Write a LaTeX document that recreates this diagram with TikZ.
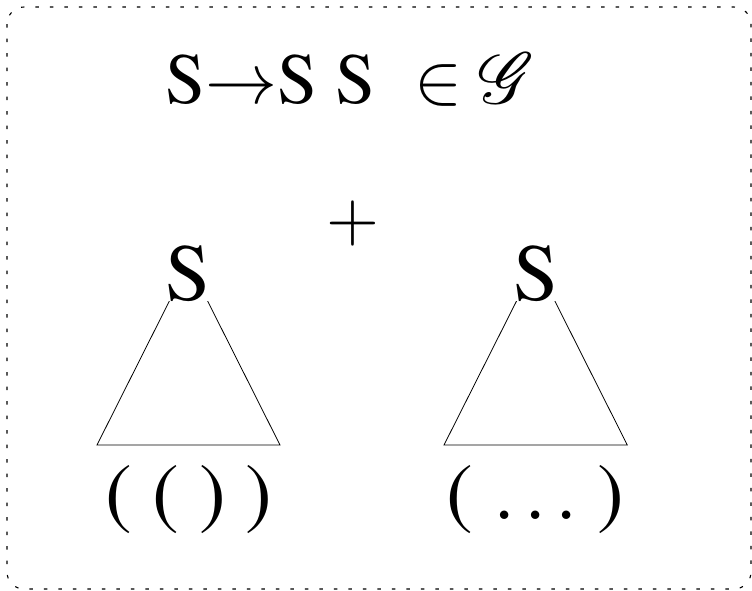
\documentclass[tikz,border=0pt]{standalone}
\usepackage[T1]{fontenc}
\usepackage{mathptmx}

\begin{document}
\begin{tikzpicture}[x=1pt, y=-1pt,
  radice/.style={anchor=base, fill=white, inner sep=0pt, font=\fontsize{81}{90}\selectfont},
  foglie/.style={anchor=base, inner sep=0pt, font=\fontsize{80}{90}\selectfont},
  lato/.style={line width=0.8pt}]
\useasboundingbox (0,0) rectangle (752,590);

% Cornice tratteggiata
\draw[dash pattern=on 3.5pt off 11pt, rounded corners=17pt, line width=1.1pt]
  (7,7) rectangle (751,589);

% Regola della grammatica
\node[anchor=base, inner sep=0pt, font=\fontsize{72}{80}\selectfont] (regola) at (350,103)
  {S$\rightarrow$S S\hspace{0.3em} $\in \mathcal{G}$};

% Segno piu'
\node[inner sep=0pt, font=\fontsize{68}{70}\selectfont] (piu) at (353,224) {$+$};

% Albero di sinistra
\coordinate (cima1) at (188.5,263);
\coordinate (sx1) at (97,445);
\coordinate (dx1) at (280,445);
\draw[lato] (cima1) -- (sx1) -- (dx1) -- cycle;
\node[radice] (s1) at (188.5,300) {S};
\node[foglie] (f1) at (189,519) {( ( ) )};

% Albero di destra
\coordinate (cima2) at (535.7,263);
\coordinate (sx2) at (444,445);
\coordinate (dx2) at (627.3,445);
\draw[lato] (cima2) -- (sx2) -- (dx2) -- cycle;
\node[radice] (s2) at (535.7,300) {S};
\node[foglie] (f2) at (535.5,519) {( $\ldots$ )};

\end{tikzpicture}
\end{document}
